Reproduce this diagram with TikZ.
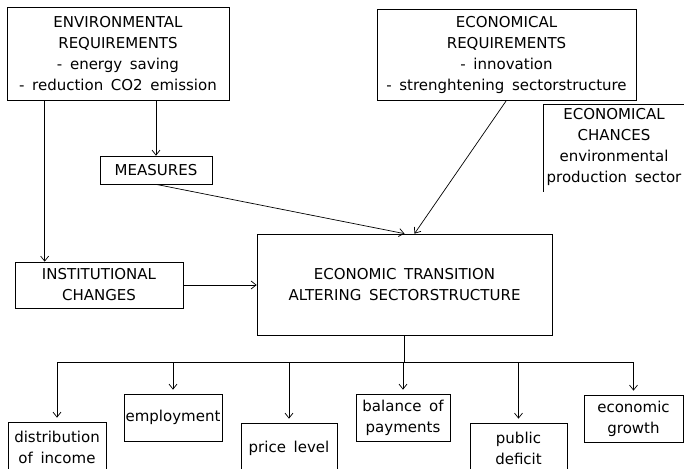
\documentclass[tikz,border=0pt]{standalone}
\usepackage{fontspec}
\setmainfont{DejaVu Sans}[WordSpace=1.6]
\usetikzlibrary{arrows.meta}
\tikzset{box/.style={draw, inner sep=0pt, align=center}}
\begin{document}
\begin{tikzpicture}[x=1pt, y=-1pt, line width=0.7pt,
  >={Straight Barb[length=5pt,width=8pt]},
  font=\fontsize{15}{21}\selectfont]
\useasboundingbox (0,0) rectangle (684,468);
\node[box, minimum width=222pt, minimum height=93pt] (env) at (118,53.5) {ENVIRONMENTAL\\REQUIREMENTS\\- energy saving\\- reduction CO2 emission};
\node[box, minimum width=259pt, minimum height=91pt] (econ) at (506.5,54.5) {ECONOMICAL\\REQUIREMENTS\\- innovation\\- strenghtening sectorstructure};
\node[align=center, inner sep=0pt] (chances) at (614,147) {ECONOMICAL\\CHANCES\\environmental\\production sector};
\draw (700,104)--(543,104)--(543,192);
\node[box, minimum width=112pt, minimum height=28pt] (measures) at (156,170) {MEASURES};
\node[box, minimum width=168pt, minimum height=46pt] (inst) at (99,285) {INSTITUTIONAL\\CHANGES};
\node[box, minimum width=295pt, minimum height=101pt] (trans) at (404.5,284.5) {ECONOMIC TRANSITION\\ALTERING SECTORSTRUCTURE};
\node[box, minimum width=98pt, minimum height=50pt] (dist) at (57,447) {distribution\\of income};
\node[box, minimum width=98pt, minimum height=47pt] (empl) at (173,417.5) {employment};
\node[box, minimum width=96pt, minimum height=50pt] (price) at (289,448) {price level};
\node[box, minimum width=94pt, minimum height=47pt] (bal) at (403,417.5) {balance of\\payments};
\node[box, minimum width=97pt, minimum height=50pt] (pub) at (518.5,448) {public\\deficit};
\node[box, minimum width=99pt, minimum height=47pt] (growth) at (633.5,418.5) {economic\\growth};
\coordinate (bar) at (404.5,362);
\draw[->] (env.south -| measures.north) -- (measures.north);
\draw[->] ([xshift=30pt]inst.north west |- env.south) -- ([xshift=30pt]inst.north west);
\draw[->] (measures.south) -- (trans.north);
\draw[->] (econ.south) -- ([xshift=10pt]trans.north);
\draw[->] (inst.east) -- (inst.east -| trans.west);
\draw (trans.south) -- (bar);
\draw (dist.north |- bar) -- (growth.north |- bar);
\draw[->, shorten >=4pt] (dist.north |- bar) -- (dist.north);
\draw[->, shorten >=4pt] (empl.north |- bar) -- (empl.north);
\draw[->, shorten >=4pt] (price.north |- bar) -- (price.north);
\draw[->, shorten >=4pt] (bal.north |- bar) -- (bal.north);
\draw[->, shorten >=4pt] (pub.north |- bar) -- (pub.north);
\draw[->, shorten >=4pt] (growth.north |- bar) -- (growth.north);
\end{tikzpicture}
\end{document}
